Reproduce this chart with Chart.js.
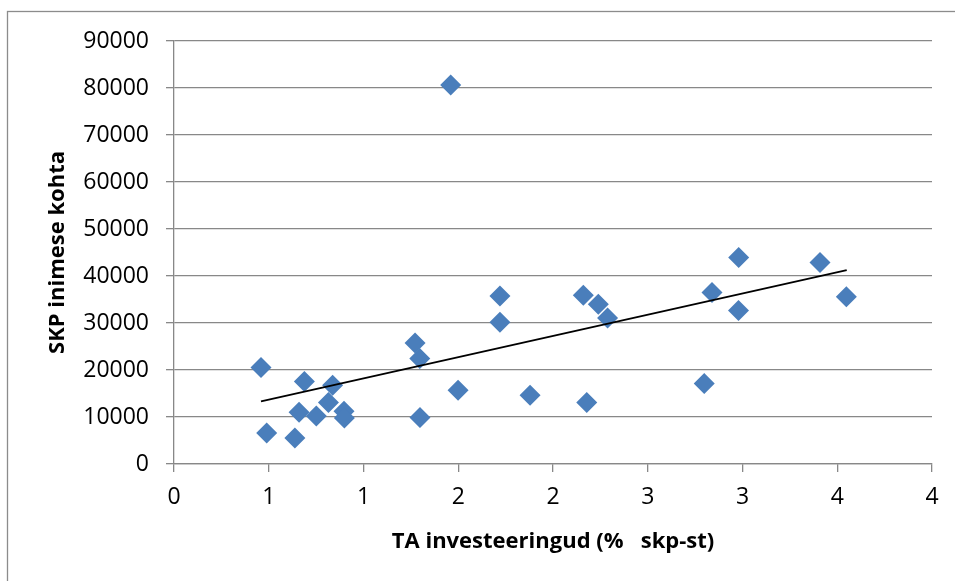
<!DOCTYPE html>
<html>
<head>
<meta charset="utf-8">
<script src="https://cdn.jsdelivr.net/npm/chart.js@4"></script>
<style>
  html, body { margin: 0; padding: 0; background: #ffffff; overflow: hidden; }
  #wrap { position: relative; width: 955px; height: 581px; }
</style>
</head>
<body>
<div id="wrap"><canvas id="c" width="955" height="581"></canvas></div>
<script>
// TA investeeringud (% skp-st)
const xValues = [0.459, 0.489, 0.638, 0.660, 0.688, 0.751, 0.815, 0.837, 0.897, 0.899,
                 1.272, 1.297, 1.298, 1.460, 1.499, 1.720, 1.720, 1.879, 2.160, 2.178,
                 2.239, 2.288, 2.798, 2.839, 2.980, 2.979, 3.409, 3.548];
// SKP inimese kohta
const yValues = [20520, 6600, 5540, 11000, 17540, 10220, 13070, 16750, 11220, 9800,
                 25760, 22440, 9880, 80630, 15690, 35770, 30170, 14630, 35920, 13070,
                 34000, 31090, 17120, 36490, 43940, 32660, 42880, 35560];
// linear trend line end points
const trendX = [0.459, 3.55];
const trendY = [13350, 41240];
const xTickLabels = ['0', '1', '1', '2', '2', '3', '3', '4', '4'];
const yTickStep = 10000;
const xTitle = 'TA investeeringud (%   skp-st)';
const yTitle = 'SKP inimese kohta';

const points = xValues.map((x, i) => ({ x: x, y: yValues[i] }));
const trend = trendX.map((x, i) => ({ x: x, y: trendY[i] }));

const GRID = '#888888';
const FONT = 'Open Sans';

const framePlugin = {
  id: 'frame',
  beforeDraw(chart) {
    const ctx = chart.ctx;
    ctx.save();
    ctx.fillStyle = '#ffffff';
    ctx.fillRect(0, 0, chart.width, chart.height);
    ctx.strokeStyle = '#8c8c8c';
    ctx.lineWidth = 1.3;
    ctx.strokeRect(7.5, 11.5, 2000, 2000);
    ctx.restore();
  }
};

new Chart(document.getElementById('c'), {
  type: 'scatter',
  data: {
    datasets: [
      {
        label: 'trend',
        data: trend,
        showLine: true,
        borderColor: '#000000',
        borderWidth: 1.8,
        pointRadius: 0,
        pointHoverRadius: 0,
        fill: false,
        order: 0
      },
      {
        label: 'SKP',
        data: points,
        pointStyle: 'rectRot',
        pointRadius: 10.5,
        pointHoverRadius: 10.5,
        backgroundColor: '#4A7EBB',
        borderColor: '#4A7EBB',
        borderWidth: 0,
        order: 1
      }
    ]
  },
  options: {
    responsive: false,
    animation: false,
    devicePixelRatio: 1,
    layout: { padding: { left: 0, top: 41, right: 23, bottom: 0 } },
    plugins: {
      legend: { display: false },
      tooltip: { enabled: false }
    },
    scales: {
      x: {
        type: 'linear',
        min: 0,
        max: 4,
        afterFit(scale) { scale.height = 117; },
        afterBuildTicks(scale) {
          scale.ticks = xTickLabels.map((_, i) => ({ value: i * 0.5 }));
        },
        ticks: {
          stepSize: 0.5,
          padding: 12,
          color: '#000000',
          font: { family: FONT, size: 23 },
          maxRotation: 0,
          autoSkip: false,
          callback: (v, i) => xTickLabels[i]
        },
        grid: {
          drawOnChartArea: false,
          drawTicks: true,
          tickLength: 8,
          color: GRID,
          lineWidth: 1.3
        },
        border: { display: true, color: GRID, width: 1.3 },
        title: {
          display: true,
          text: xTitle,
          color: '#000000',
          font: { family: FONT, size: 22, weight: 'bold' },
          padding: { top: 0, bottom: 26 }
        }
      },
      y: {
        type: 'linear',
        min: 0,
        max: 90000,
        afterFit(scale) { scale.width = 174; },
        ticks: {
          stepSize: yTickStep,
          padding: 17,
          color: '#000000',
          font: { family: FONT, size: 23 },
          callback: (v) => String(v)
        },
        grid: {
          drawOnChartArea: true,
          drawTicks: true,
          tickLength: 8,
          color: GRID,
          lineWidth: 1.3
        },
        border: { display: true, color: GRID, width: 1.3 },
        title: {
          display: true,
          text: yTitle,
          color: '#000000',
          font: { family: FONT, size: 22, weight: 'bold' },
          padding: { top: 45, bottom: 0 }
        }
      }
    }
  },
  plugins: [framePlugin]
});
</script>
</body>
</html>
